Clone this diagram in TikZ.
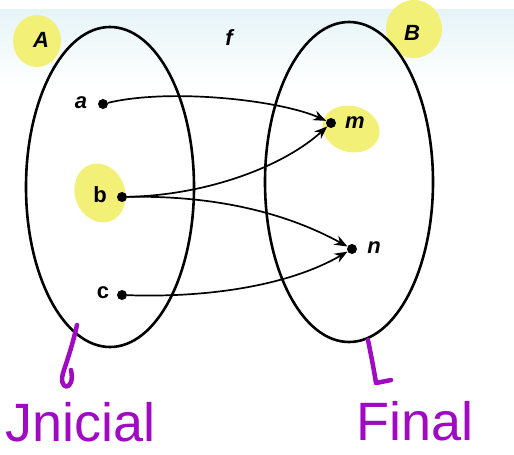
\documentclass[tikz,border=0pt]{standalone}
\usepackage{fontspec}
\setmainfont{Liberation Sans}
\usetikzlibrary{shapes.geometric,arrows.meta}
\definecolor{hlyellow}{RGB}{243,240,120}
\definecolor{handpurple}{RGB}{160,10,195}
\definecolor{bgblue}{RGB}{230,244,248}
\tikzset{
  setoval/.style={ellipse, draw=black, line width=2.6pt, minimum width=168pt, minimum height=320pt, inner sep=0pt},
  elem/.style={circle, fill=black, minimum size=10pt, inner sep=0pt},
  lbl/.style={font=\fontsize{22}{22}\selectfont\bfseries\itshape, inner sep=0pt},
  lblup/.style={font=\fontsize{22}{22}\selectfont\bfseries, inner sep=0pt},
  maparrow/.style={line width=1.7pt, -{Stealth[length=13pt,width=10pt]}},
  hl/.style={fill=hlyellow, draw=none},
  hand/.style={draw=handpurple, line width=4.5pt, line cap=round, line join=round},
  handtext/.style={text=handpurple, font=\fontsize{54}{54}\selectfont, inner sep=0pt, anchor=base west}
}
\begin{document}
\begin{tikzpicture}[x=1pt,y=-1pt]
\useasboundingbox (0,0) rectangle (514,455);
% background tint
\shade[top color=bgblue, bottom color=white] (0,9) rectangle (514,85);
% highlights
\fill[hl] (37,41) ellipse [x radius=24, y radius=26];
\fill[hl] (414,29) ellipse [x radius=28, y radius=29];
\fill[hl, rotate around={-15:(351,129)}] (351,129) ellipse [x radius=29, y radius=23];
\fill[hl, rotate around={20:(100,193)}] (100,193) ellipse [x radius=25, y radius=30];
% sets
\node[setoval] (setA) at (110,187) {};
\node[setoval] (setB) at (349,182) {};
% elements
\node[elem] (a) at (103,104) {};
\node[elem] (b) at (122,197) {};
\node[elem] (c) at (122,295) {};
\node[elem] (m) at (331,123) {};
\node[elem] (n) at (352,249) {};
% labels
\node[lbl] (la) at (81,103) {a};
\node[lblup] (lb) at (100,195) {b};
\node[lblup] (lc) at (103,293) {c};
\node[lbl] (lm) at (355,123) {m};
\node[lbl] (ln) at (374,248) {n};
\node[lbl] (lf) at (229,38) {f};
\node[lbl] (lA) at (41,40) {A};
\node[lbl] (lB) at (412,33) {B};
% mappings
\draw[maparrow] (a) .. controls (170,88) and (280,100) .. (m);
\draw[maparrow] (b) .. controls (210,195) and (285,165) .. (m);
\draw[maparrow] (b) .. controls (220,195) and (290,215) .. (n);
\draw[maparrow] (c) .. controls (210,298) and (290,285) .. (n);
% handwritten annotations
\coordinate (hA1) at (77,325);
\coordinate (hA2) at (71,370);
\draw[hand] (hA1) .. controls (73,343) and (68,358) .. (64,370) .. controls (56,392) and (76,392) .. (hA2);
\coordinate (hB1) at (368,340);
\coordinate (hB2) at (391,380);
\draw[hand] (hB1) .. controls (371,355) and (374,370) .. (376,383) -- (hB2);
\node[handtext] (tJ) at (5,441) {Jnicial};
\node[handtext] (tF) at (356,440) {Final};
\end{tikzpicture}
\end{document}
